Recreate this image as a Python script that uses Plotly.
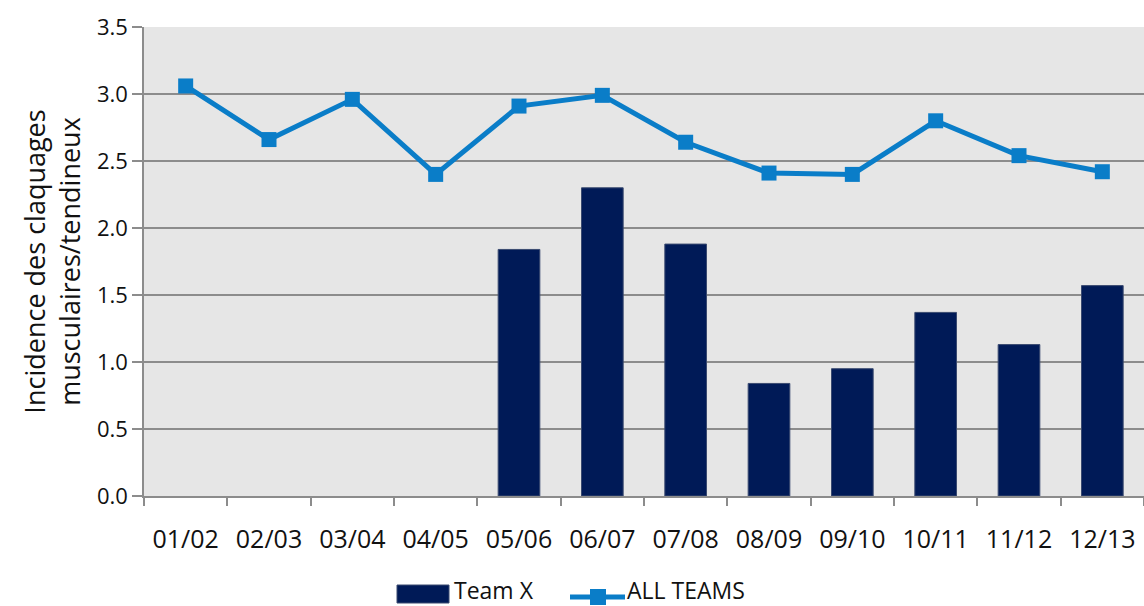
import plotly.graph_objects as go

seasons = ["01/02", "02/03", "03/04", "04/05", "05/06", "06/07",
           "07/08", "08/09", "09/10", "10/11", "11/12", "12/13"]
team_x = [None, None, None, None, 1.84, 2.30, 1.88, 0.84, 0.95, 1.37, 1.13, 1.57]
all_teams = [3.06, 2.66, 2.96, 2.40, 2.91, 2.99, 2.64, 2.41, 2.40, 2.80, 2.54, 2.42]
y_ticks = [0.0, 0.5, 1.0, 1.5, 2.0, 2.5, 3.0, 3.5]

FONT = "Open Sans, Noto Sans, sans-serif"
GRID = "#8c8c8c"
BAR_COLOR = "#001a57"
LINE_COLOR = "#0a7dc8"

W, H = 1144, 606
ML, MR, MT, MB = 144, 0, 27, 110
PW, PH = W - ML - MR, H - MT - MB


def px(x):
    return (x - ML) / PW


def py(y):
    return (H - MB - y) / PH


fig = go.Figure()
fig.add_trace(go.Bar(
    x=seasons, y=team_x, name="Team X",
    marker=dict(color=BAR_COLOR, line=dict(color="#3a4a70", width=1)),
    width=0.5,
))
fig.add_trace(go.Scatter(
    x=seasons, y=all_teams, name="ALL TEAMS", mode="lines+markers",
    line=dict(color=LINE_COLOR, width=5),
    marker=dict(symbol="square", size=15, color=LINE_COLOR),
))

# Legend drawn below the plot: wide swatch for the bars, line+square for the series
shapes = [
    dict(type="rect", xref="paper", yref="paper",
         x0=px(397), x1=px(449), y0=py(603), y1=py(585),
         fillcolor=BAR_COLOR, line=dict(color="#3a4a70", width=1)),
    dict(type="line", xref="paper", yref="paper",
         x0=px(570), x1=px(625), y0=py(597), y1=py(597),
         line=dict(color=LINE_COLOR, width=5)),
    dict(type="rect", xref="paper", yref="paper",
         x0=px(590), x1=px(606), y0=py(605), y1=py(589),
         fillcolor=LINE_COLOR, line=dict(width=0)),
]
annotations = [
    dict(text="Team X", xref="paper", yref="paper", x=px(453), y=py(590),
         xanchor="left", yanchor="middle", showarrow=False, borderpad=0,
         font=dict(size=23, family=FONT, color="#111111")),
    dict(text="ALL TEAMS", xref="paper", yref="paper", x=px(626), y=py(590),
         xanchor="left", yanchor="middle", showarrow=False, borderpad=0,
         font=dict(size=23, family=FONT, color="#111111")),
]

fig.update_layout(
    width=W, height=H,
    margin=dict(l=ML, r=MR, t=MT, b=MB),
    paper_bgcolor="white", plot_bgcolor="#e6e6e6",
    font=dict(family=FONT, size=22, color="#111111"),
    showlegend=False,
    shapes=shapes, annotations=annotations,
)
fig.update_xaxes(
    type="category", range=[-0.5, 11.5], tickson="boundaries",
    ticks="outside", ticklen=8, tickcolor=GRID, tickwidth=1.5,
    showline=True, linecolor=GRID, linewidth=1.5,
    showgrid=False, tickfont=dict(size=25), ticklabelstandoff=20,
)
fig.update_yaxes(
    range=[0, 3.5], tickvals=y_ticks,
    ticktext=[f"{v:.1f}" for v in y_ticks],
    ticks="outside", ticklen=10, tickcolor=GRID, tickwidth=1.5,
    showgrid=True, gridcolor=GRID, gridwidth=1.5,
    showline=True, linecolor=GRID, linewidth=1.5, zeroline=False,
    tickfont=dict(size=22),
    title=dict(text="Incidence des claquages<br>musculaires/tendineux",
               font=dict(size=27), standoff=8),
)

fig.write_html("out.html")
